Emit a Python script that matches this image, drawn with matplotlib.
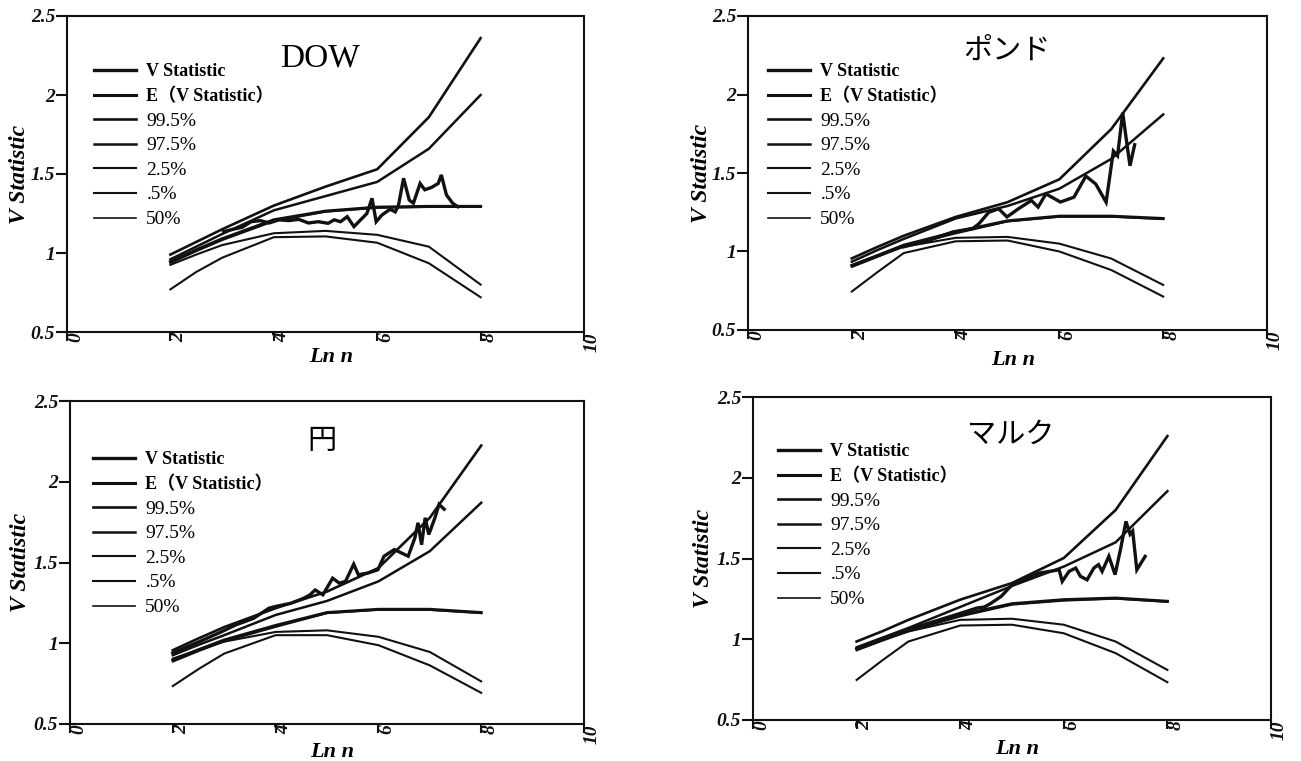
"""Variance-ratio style V statistic vs ln n, four markets (2x2 panel)."""

import matplotlib

matplotlib.use("Agg")
import matplotlib.pyplot as plt  # noqa: E402

plt.rcParams.update({
    "font.family": ["Liberation Serif", "Noto Sans CJK JP"],
    "axes.linewidth": 1.5,
})

W, H = 1301, 761
INK = "#111111"

# common nodes (ln n) for the simulated bands
X_NODES = [2, 2.5, 3, 4, 5, 6, 7, 8]

# --- DOW ---
DOW_P995 = [0.99, 1.07, 1.15, 1.30, 1.42, 1.53, 1.86, 2.36]
DOW_P975 = [0.96, 1.04, 1.12, 1.27, 1.36, 1.45, 1.66, 2.00]
DOW_EV = [0.945, 1.02, 1.09, 1.21, 1.265, 1.29, 1.295, 1.295]
DOW_P50 = [0.935, 1.01, 1.08, 1.20, 1.26, 1.285, 1.29, 1.29]
DOW_P25 = [0.925, 0.99, 1.05, 1.125, 1.14, 1.115, 1.04, 0.80]
DOW_P05 = [0.77, 0.88, 0.97, 1.10, 1.105, 1.065, 0.935, 0.72]
DOW_VX = [3.03, 3.21, 3.39, 3.56, 3.74, 3.91, 4.10, 4.29, 4.48, 4.67, 4.86, 5.05,
          5.17, 5.29, 5.42, 5.55, 5.71, 5.80, 5.90, 5.98, 6.09, 6.25, 6.35, 6.41,
          6.51, 6.62, 6.70, 6.83, 6.92, 7.05, 7.18, 7.24, 7.34, 7.46, 7.56]
DOW_VY = [1.135, 1.15, 1.163, 1.198, 1.205, 1.19, 1.21, 1.205, 1.213, 1.19, 1.198, 1.188,
          1.21, 1.198, 1.23, 1.167, 1.22, 1.25, 1.346, 1.198, 1.24, 1.277, 1.26, 1.30,
          1.473, 1.335, 1.315, 1.44, 1.40, 1.415, 1.44, 1.494, 1.367, 1.315, 1.293]

# --- GBP ---
GBP_P995 = [0.956, 1.03, 1.10, 1.22, 1.314, 1.46, 1.78, 2.23]
GBP_P975 = [0.935, 1.01, 1.08, 1.21, 1.29, 1.40, 1.59, 1.873]
GBP_EV = [0.91, 0.975, 1.04, 1.125, 1.195, 1.225, 1.225, 1.21]
GBP_P50 = [0.90, 0.965, 1.03, 1.114, 1.19, 1.22, 1.22, 1.205]
GBP_P25 = [0.914, 0.975, 1.03, 1.087, 1.093, 1.05, 0.955, 0.787]
GBP_P05 = [0.745, 0.87, 0.99, 1.065, 1.07, 1.0, 0.882, 0.713]
GBP_VX = [3.0, 3.48, 3.95, 4.33, 4.45, 4.64, 4.83, 4.99, 5.21, 5.46, 5.59, 5.74,
          6.02, 6.28, 6.51, 6.70, 6.90, 7.04, 7.12, 7.22, 7.28, 7.36, 7.45]
GBP_VY = [1.03, 1.07, 1.125, 1.146, 1.177, 1.25, 1.272, 1.22, 1.272, 1.325, 1.283, 1.367,
          1.315, 1.346, 1.48, 1.43, 1.314, 1.64, 1.61, 1.884, 1.736, 1.546, 1.68]

# --- JPY ---
JPY_P995 = [0.957, 1.03, 1.10, 1.217, 1.32, 1.466, 1.777, 2.224]
JPY_P975 = [0.926, 0.99, 1.05, 1.175, 1.262, 1.383, 1.57, 1.87]
JPY_EV = [0.895, 0.96, 1.02, 1.11, 1.19, 1.21, 1.21, 1.19]
JPY_P50 = [0.885, 0.95, 1.01, 1.10, 1.185, 1.206, 1.205, 1.185]
JPY_P25 = [0.905, 0.96, 1.01, 1.07, 1.08, 1.04, 0.946, 0.764]
JPY_P05 = [0.735, 0.84, 0.936, 1.05, 1.05, 0.988, 0.863, 0.693]
JPY_VX = [2.0, 2.51, 2.94, 3.22, 3.57, 3.87, 3.99, 4.30, 4.55, 4.67, 4.77, 4.92,
          5.11, 5.24, 5.36, 5.52, 5.61, 5.80, 5.99, 6.11, 6.31, 6.58, 6.71, 6.77,
          6.84, 6.91, 6.98, 7.10, 7.18, 7.28]
JPY_VY = [0.94, 1.009, 1.07, 1.113, 1.154, 1.217, 1.227, 1.248, 1.279, 1.30, 1.33, 1.30,
          1.403, 1.372, 1.383, 1.49, 1.424, 1.435, 1.455, 1.539, 1.58, 1.539, 1.653, 1.746,
          1.61, 1.777, 1.673, 1.777, 1.86, 1.83]

# --- DEM ---
DEM_P995 = [0.986, 1.05, 1.12, 1.245, 1.348, 1.503, 1.80, 2.258]
DEM_P975 = [0.95, 1.01, 1.07, 1.20, 1.33, 1.45, 1.60, 1.917]
DEM_EV = [0.94, 1.0, 1.055, 1.15, 1.22, 1.245, 1.255, 1.235]
DEM_P50 = [0.93, 0.99, 1.048, 1.14, 1.213, 1.238, 1.25, 1.23]
DEM_P25 = [0.94, 0.995, 1.048, 1.12, 1.127, 1.09, 0.986, 0.81]
DEM_P05 = [0.748, 0.87, 0.986, 1.085, 1.09, 1.037, 0.914, 0.734]
DEM_VX = [3.0, 3.5, 4.0, 4.32, 4.47, 4.60, 4.79, 5.0, 5.22, 5.53, 5.91, 5.97, 6.10,
          6.23, 6.32, 6.45, 6.58, 6.67, 6.74, 6.87, 6.99, 7.10, 7.20, 7.28, 7.33,
          7.41, 7.57]
DEM_VY = [1.06, 1.11, 1.16, 1.193, 1.20, 1.224, 1.265, 1.337, 1.369, 1.41, 1.43, 1.358, 1.42,
          1.441, 1.39, 1.368, 1.441, 1.462, 1.42, 1.514, 1.40, 1.565, 1.73, 1.65, 1.67,
          1.43, 1.513]

TITLES = ["DOW", "ポンド", "円", "マルク"]
LABELS = ["V Statistic", "E（V Statistic）", "99.5%", "97.5%", "2.5%", ".5%", "50%"]
X_TICKS = [0, 2, 4, 6, 8, 10]
Y_TICKS = [0.5, 1, 1.5, 2, 2.5]
Y_TICKLABELS = ["0.5", "1", "1.5", "2", "2.5"]

# pixel boxes (left, right, top, bottom), legend anchor, title centre
PANELS = [
    dict(box=(67, 584, 16, 332), leg=(94, 63), title=(320, 58), ylab=-0.091, xlab=-0.047,
         bands=(DOW_EV, DOW_P995, DOW_P975, DOW_P25, DOW_P05, DOW_P50), v=(DOW_VX, DOW_VY)),
    dict(box=(748, 1267, 16, 330), leg=(768, 63), title=(1007, 52), ylab=-0.09, xlab=-0.064,
         bands=(GBP_EV, GBP_P995, GBP_P975, GBP_P25, GBP_P05, GBP_P50), v=(GBP_VX, GBP_VY)),
    dict(box=(70, 584, 401, 724), leg=(93, 451), title=(322, 442), ylab=-0.097, xlab=-0.056,
         bands=(JPY_EV, JPY_P995, JPY_P975, JPY_P25, JPY_P05, JPY_P50), v=(JPY_VX, JPY_VY)),
    dict(box=(753, 1271, 397, 720), leg=(778, 443), title=(1011, 436), ylab=-0.095, xlab=-0.06,
         bands=(DEM_EV, DEM_P995, DEM_P975, DEM_P25, DEM_P05, DEM_P50), v=(DEM_VX, DEM_VY)),
]

# widths: V, E(V), 99.5, 97.5, 2.5, .5, 50
WIDTHS = [2.4, 2.2, 1.9, 1.8, 1.5, 1.5, 1.2]

fig = plt.figure(figsize=(W / 100, H / 100), dpi=100)

for i, p in enumerate(PANELS):
    left, right, top, bottom = p["box"]
    ax = fig.add_axes([left / W, 1 - bottom / H, (right - left) / W, (bottom - top) / H])

    vx, vy = p["v"]
    ax.plot(vx, vy, color=INK, lw=WIDTHS[0], label=LABELS[0], solid_joinstyle="miter")
    for j, band in enumerate(p["bands"]):
        ax.plot(X_NODES, band, color=INK, lw=WIDTHS[j + 1], label=LABELS[j + 1])

    ax.set_xlim(0, 10)
    ax.set_ylim(0.5, 2.5)
    ax.set_xticks(X_TICKS)
    ax.set_xticklabels([str(t) for t in X_TICKS], rotation=90, ha="left", va="top",
                       fontstyle="italic", fontweight="bold", fontsize=14)
    ax.set_yticks(Y_TICKS)
    ax.set_yticklabels(Y_TICKLABELS, fontstyle="italic", fontweight="bold", fontsize=14)
    ax.tick_params(axis="x", direction="out", length=6.5, width=1.5, pad=-6.0, colors=INK)
    ax.tick_params(axis="y", direction="out", length=8, width=1.5, pad=0.5, colors=INK)
    for s in ax.spines.values():
        s.set_color(INK)

    ax.set_ylabel("V Statistic", fontstyle="italic", fontweight="bold", fontsize=17,
                  va="center")
    ax.yaxis.set_label_coords(p["ylab"], 0.5)
    ax.set_xlabel("Ln n", fontstyle="italic", fontweight="bold", fontsize=16)
    ax.xaxis.set_label_coords(0.51, p["xlab"])

    tx, ty = p["title"]
    ax.text(tx / W, 1 - ty / H, TITLES[i], transform=fig.transFigure, ha="center",
            va="center", fontsize=24 if i == 0 else 21)

    lx, ly = p["leg"]
    leg = ax.legend(loc="upper left", bbox_to_anchor=(lx / W, 1 - ly / H),
                    bbox_transform=fig.transFigure, frameon=False, fontsize=13,
                    borderpad=0, borderaxespad=0, handlelength=2.3, handletextpad=0.6,
                    labelspacing=0.42)
    for k, t in enumerate(leg.get_texts()):
        if k < 2:
            t.set_fontweight("bold")
        else:
            t.set_fontsize(14)

fig.savefig("out.png", dpi=100)
